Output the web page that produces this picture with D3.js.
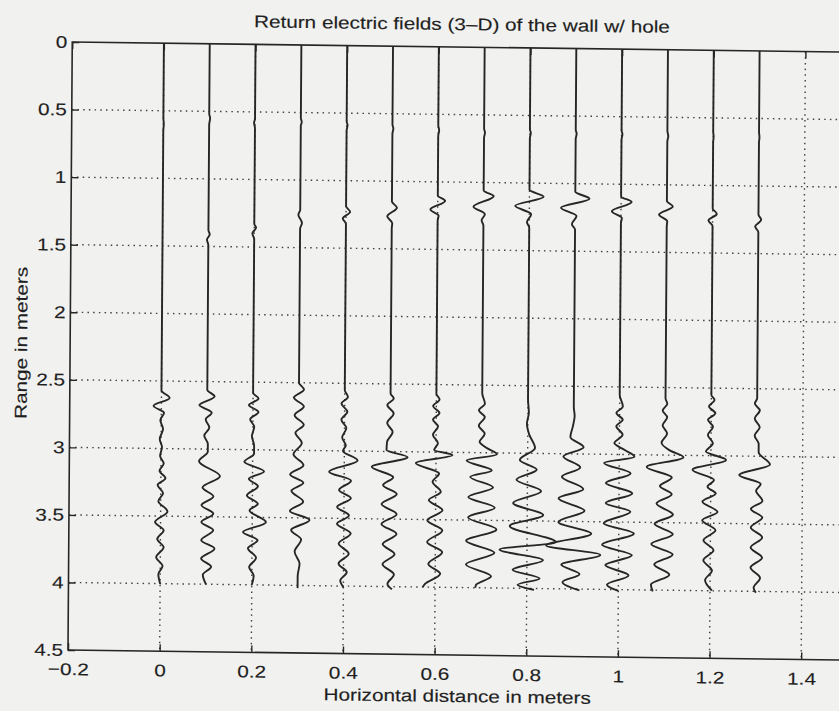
<!DOCTYPE html>
<html>
<head>
<meta charset="utf-8">
<script src="https://cdn.jsdelivr.net/npm/d3@7"></script>
<style>
  html, body { margin: 0; padding: 0; background: #f1f1ef; }
  svg { display: block; }
  text { font-family: "Liberation Sans", Arial, Helvetica, sans-serif; fill: #1f1f1f; stroke: #1f1f1f; stroke-width: 0.15px; }
</style>
</head>
<body>
<svg id="chart" width="839" height="711"></svg>
<script>
// Axis ticks and grid
const xTicks = [-0.2, 0, 0.2, 0.4, 0.6, 0.8, 1.0, 1.2, 1.4];
const yTicks = [0, 0.5, 1, 1.5, 2, 2.5, 3, 3.5, 4, 4.5];
const xGrid = [0, 0.2, 0.4, 0.6, 0.8, 1.0, 1.2, 1.4];
const yGrid = [0.5, 1, 1.5, 2, 2.5, 3, 3.5, 4];

// Antenna positions along the wall (m)
const tracePositions = [0, 0.1, 0.2, 0.3, 0.4, 0.5, 0.6, 0.7, 0.8, 0.9, 1.0, 1.1, 1.2, 1.3];

// Each trace: [range (m), field deflection (m)]
const trace00 = [[0,0],[0.55,0],[0.6,0.001],[0.65,0],[2.57,0],[2.625,0.018],[2.685,-0.017],[2.735,0.006],[2.79,-0.002],[2.855,0.004],[2.93,-0.003],[2.99,0.002],[3.055,-0.002],[3.11,0.006],[3.165,-0.003],[3.22,0.010],[3.27,-0.007],[3.33,0.005],[3.39,-0.005],[3.465,0.015],[3.545,-0.012],[3.605,0.007],[3.67,-0.007],[3.73,0.007],[3.805,-0.009],[3.87,0.005],[3.93,-0.004],[4.0,0]];
const trace01 = [[0,0],[0.52,0],[0.55,0.002],[0.6,0],[1.38,0],[1.41,0.003],[1.45,-0.003],[1.49,0],[2.56,0],[2.61,0.016],[2.675,-0.017],[2.73,0.010],[2.78,-0.003],[2.84,0.005],[2.9,-0.006],[2.96,0.002],[3.02,0.002],[3.09,-0.017],[3.2,0.029],[3.285,-0.009],[3.35,0.015],[3.415,-0.011],[3.477,0.015],[3.54,-0.011],[3.60,0.015],[3.675,-0.011],[3.736,0.018],[3.81,-0.011],[3.87,0.011],[3.93,-0.007],[4.0,0]];
const trace02 = [[0,0],[0.55,0],[0.58,-0.002],[0.62,0],[1.33,0],[1.355,0.004],[1.40,-0.004],[1.44,0],[2.58,0],[2.62,0.012],[2.67,-0.009],[2.72,0.012],[2.775,-0.006],[2.83,0.003],[2.9,-0.002],[2.97,0.003],[3.03,0.003],[3.09,-0.018],[3.16,0.025],[3.215,-0.008],[3.27,0.012],[3.34,-0.012],[3.40,0.012],[3.45,-0.006],[3.535,0.030],[3.61,-0.020],[3.67,0.012],[3.73,-0.009],[3.80,0.009],[3.87,-0.006],[3.93,0.004],[4.0,0]];
const trace03 = [[0,0],[0.54,0],[0.57,0.002],[0.6,0],[1.22,0],[1.256,-0.004],[1.317,0.004],[1.36,0],[2.5,0],[2.55,0.011],[2.61,-0.011],[2.675,0.011],[2.74,-0.009],[2.81,0.011],[2.87,-0.007],[2.945,0.007],[3.03,-0.011],[3.11,0.011],[3.18,-0.018],[3.24,0.011],[3.30,-0.015],[3.38,0.011],[3.45,-0.018],[3.515,0.025],[3.59,-0.015],[3.66,0.007],[3.75,-0.007],[3.84,0.004],[3.93,0],[4.02,0]];
const trace04 = [[0,0],[0.56,0],[0.59,0.002],[0.63,0],[1.19,0],[1.23,0.009],[1.28,-0.007],[1.32,0],[2.55,0],[2.6,0.007],[2.65,-0.007],[2.71,0.006],[2.77,-0.007],[2.83,0.004],[2.9,-0.005],[2.96,0.003],[3.0,-0.003],[3.07,0.029],[3.155,-0.033],[3.22,0.015],[3.29,-0.011],[3.35,0.015],[3.415,-0.015],[3.477,0.011],[3.54,-0.015],[3.61,0.015],[3.686,-0.011],[3.76,0.011],[3.835,-0.011],[3.897,0.007],[3.96,-0.007],[4.01,0]];
const trace05 = [[0,0],[0.58,0],[0.61,0.002],[0.65,0],[1.15,0],[1.195,0.011],[1.26,-0.010],[1.31,0.001],[1.35,0],[2.57,0],[2.607,0.007],[2.656,-0.007],[2.718,0.007],[2.79,-0.007],[2.855,0.005],[2.93,-0.007],[2.99,-0.008],[3.04,0.038],[3.115,-0.040],[3.19,0.007],[3.25,-0.015],[3.314,0.015],[3.39,-0.018],[3.463,0.015],[3.537,-0.018],[3.61,0.015],[3.686,-0.015],[3.76,0.011],[3.835,-0.015],[3.91,0.010],[3.98,-0.004],[4.02,0.006]];
const trace06 = [[0,0],[0.58,0],[0.62,0.002],[0.66,0],[1.10,0],[1.14,0.016],[1.205,-0.016],[1.25,0.002],[1.29,0],[2.57,0],[2.61,0.007],[2.66,-0.007],[2.71,0.007],[2.76,-0.007],[2.81,0.004],[2.872,-0.007],[2.934,0.004],[2.984,-0.004],[3.02,0.036],[3.083,-0.044],[3.158,0.007],[3.22,-0.007],[3.294,0.011],[3.356,-0.015],[3.43,0.015],[3.505,-0.018],[3.58,0.015],[3.666,-0.018],[3.74,0.015],[3.828,-0.015],[3.90,0.011],[3.976,-0.022],[4.0,-0.027]];
const trace07 = [[0,0],[0.6,0],[0.63,0.002],[0.67,0],[1.06,0],[1.10,0.022],[1.18,-0.022],[1.235,0.003],[1.28,-0.004],[1.32,0],[2.56,0],[2.637,0.006],[2.686,-0.007],[2.736,0.006],[2.80,-0.007],[2.86,0.006],[2.92,-0.005],[2.96,0.008],[3.01,0.033],[3.06,-0.033],[3.13,0.022],[3.18,-0.025],[3.257,0.025],[3.33,-0.029],[3.406,0.029],[3.48,-0.029],[3.567,0.033],[3.654,-0.033],[3.74,0.029],[3.828,-0.033],[3.914,0.022],[3.98,-0.011],[4.0,-0.012]];
const trace08 = [[0,0],[0.6,0],[0.63,0.002],[0.67,0],[1.05,0],[1.10,0.031],[1.17,-0.031],[1.23,0.004],[1.29,-0.005],[1.33,0],[2.6,0],[2.7,0.002],[2.78,-0.002],[2.86,0.003],[2.96,0.016],[3.05,-0.017],[3.12,0.020],[3.196,-0.024],[3.28,0.030],[3.37,-0.031],[3.456,0.035],[3.54,-0.038],[3.655,0.063],[3.715,-0.060],[3.79,0.035],[3.863,-0.031],[3.925,0.028],[3.974,-0.020],[4.01,0.016]];
const trace09 = [[0,0],[0.6,0],[0.63,0.002],[0.67,0],[1.06,0],[1.11,0.031],[1.18,-0.031],[1.24,0.003],[1.30,-0.007],[1.34,0],[2.65,0],[2.72,0.002],[2.8,-0.002],[2.875,-0.007],[2.95,0.022],[3.02,-0.022],[3.10,0.015],[3.17,-0.025],[3.26,0.022],[3.33,-0.032],[3.42,0.025],[3.505,-0.032],[3.59,0.040],[3.68,-0.058],[3.745,0.060],[3.82,-0.025],[3.89,0.015],[3.95,-0.022],[4.01,0.015]];
const trace10 = [[0,0],[0.6,0],[0.63,0.002],[0.67,0],[1.09,0],[1.13,0.023],[1.20,-0.020],[1.25,0.002],[1.29,0],[2.56,0],[2.644,0.007],[2.693,-0.007],[2.743,0.007],[2.792,-0.007],[2.854,0.007],[2.916,-0.011],[2.965,0.011],[3.015,0.033],[3.064,-0.033],[3.139,0.025],[3.213,-0.029],[3.287,0.029],[3.361,-0.029],[3.423,0.025],[3.51,-0.033],[3.584,0.033],[3.67,-0.036],[3.745,0.029],[3.82,-0.029],[3.894,0.022],[3.965,-0.025],[4.01,0]];
const trace11 = [[0,0],[0.6,0],[0.64,0.002],[0.68,0],[1.12,0],[1.16,0.013],[1.22,-0.017],[1.27,0.001],[1.31,0],[2.58,0],[2.62,0.004],[2.67,-0.006],[2.72,0.004],[2.78,-0.006],[2.84,0.004],[2.91,-0.008],[2.965,0.010],[3.015,0.040],[3.09,-0.040],[3.165,0.015],[3.23,-0.011],[3.29,0.015],[3.36,-0.018],[3.44,0.018],[3.51,-0.022],[3.585,0.018],[3.66,-0.029],[3.735,0.018],[3.81,-0.022],[3.885,0.011],[3.96,-0.029],[4.01,-0.025]];
const trace12 = [[0,0],[0.6,0],[0.64,0.001],[0.68,0],[1.17,0],[1.21,0.009],[1.26,-0.009],[1.30,0],[2.55,0],[2.587,0.007],[2.636,-0.005],[2.686,0.009],[2.735,-0.007],[2.785,0.004],[2.847,-0.007],[2.908,0.004],[2.97,-0.011],[3.03,0.033],[3.106,-0.040],[3.18,0.007],[3.23,-0.007],[3.28,0.011],[3.34,-0.018],[3.416,0.015],[3.478,-0.018],[3.552,0.011],[3.626,-0.015],[3.70,0.007],[3.775,-0.015],[3.85,0.004],[3.923,-0.011],[3.998,0.004]];
const trace13 = [[0,0],[0.6,0],[0.64,0.001],[0.68,0],[1.21,0],[1.25,0.006],[1.30,-0.007],[1.34,0],[2.57,0],[2.61,-0.005],[2.66,0.006],[2.72,-0.005],[2.785,0.006],[2.847,-0.005],[2.908,0.004],[2.97,0.004],[3.06,0.029],[3.14,-0.038],[3.205,0.009],[3.255,-0.001],[3.33,0.013],[3.39,-0.012],[3.453,0.013],[3.527,-0.012],[3.60,0.013],[3.676,-0.012],[3.75,0.013],[3.824,-0.012],[3.90,0.009],[3.973,-0.005],[4.01,0]];

const traces = [trace00, trace01, trace02, trace03, trace04, trace05, trace06,
                trace07, trace08, trace09, trace10, trace11, trace12, trace13];

const titleText = "Return electric fields (3–D) of the wall w/ hole";
const xLabel = "Horizontal distance in meters";
const yLabel = "Range in meters";

const fontSize = 17;
const stretch = 1.22;   // wide Helvetica-style glyphs

const svg = d3.select("#chart");

// Whole sheet sits slightly askew on the page
const page = svg.append("g")
  .attr("transform", "matrix(1,0.013,-0.007,1,4.55,-0.884)");

const x = d3.scaleLinear().domain([-0.2, 1.5]).range([68, 847]);
const y = d3.scaleLinear().domain([0, 4.5]).range([42, 650]);

// Dotted grid
const grid = page.append("g")
  .attr("stroke", "#404040")
  .attr("stroke-width", 1.4)
  .attr("stroke-dasharray", "1.5 4.2");
grid.selectAll("line.gx").data(xGrid).join("line")
  .attr("class", "gx")
  .attr("x1", d => x(d)).attr("x2", d => x(d))
  .attr("y1", y(0)).attr("y2", y(4.5));
grid.selectAll("line.gy").data(yGrid).join("line")
  .attr("class", "gy")
  .attr("x1", x(-0.2)).attr("x2", x(1.5))
  .attr("y1", d => y(d)).attr("y2", d => y(d));

// Traces
const line = d3.line()
  .x(d => d.px)
  .y(d => y(d.r))
  .curve(d3.curveMonotoneY);

page.append("g")
  .attr("fill", "none")
  .attr("stroke", "#262626")
  .attr("stroke-width", 1.9)
  .attr("stroke-linejoin", "round")
  .selectAll("path")
  .data(traces.map((t, i) => t.map(p => ({ r: p[0], px: x(tracePositions[i] + p[1]) }))))
  .join("path")
  .attr("d", line);

// Axes (ticks point inward, box on)
const fmt = d3.format("~g");
const tick = 7;

function styleAxis(g) {
  g.select(".domain").remove();
  g.selectAll(".tick line").attr("stroke", "#262626").attr("stroke-width", 1.4);
  g.selectAll("text")
    .attr("font-size", fontSize)
    .attr("font-family", "Liberation Sans, Arial, sans-serif")
    .attr("fill", "#1f1f1f");
}

const gBottom = page.append("g")
  .attr("transform", `translate(0,${y(4.5)})`)
  .call(d3.axisBottom(x).tickValues(xTicks).tickFormat(fmt).tickSize(-tick).tickPadding(13))
  .call(styleAxis);
gBottom.selectAll("text").attr("transform", `scale(${stretch},1)`);

const gTop = page.append("g")
  .attr("transform", `translate(0,${y(0)})`)
  .call(d3.axisTop(x).tickValues(xTicks).tickFormat("").tickSize(-tick))
  .call(styleAxis);

const gLeft = page.append("g")
  .attr("transform", `translate(${x(-0.2)},0)`)
  .call(d3.axisLeft(y).tickValues(yTicks).tickFormat(fmt).tickSize(-tick).tickPadding(4))
  .call(styleAxis);
gLeft.selectAll("text").attr("transform", `scale(${stretch},1)`);

const gRight = page.append("g")
  .attr("transform", `translate(${x(1.5)},0)`)
  .call(d3.axisRight(y).tickValues(yTicks).tickFormat("").tickSize(-tick))
  .call(styleAxis);

// Box
page.append("rect")
  .attr("x", x(-0.2)).attr("y", y(0))
  .attr("width", x(1.5) - x(-0.2)).attr("height", y(4.5) - y(0))
  .attr("fill", "none")
  .attr("stroke", "#262626")
  .attr("stroke-width", 1.6);

// Title and axis labels
function label(txt, tx, ty, rot) {
  page.append("g")
    .attr("transform", `translate(${tx},${ty}) rotate(${rot})`)
    .append("text")
    .attr("text-anchor", "middle")
    .attr("font-size", fontSize)
    .attr("transform", `scale(${stretch},1)`)
    .text(txt);
}
label(titleText, (x(-0.2) + x(1.5)) / 2, 25, 0);
label(xLabel, (x(-0.2) + x(1.5)) / 2, 697, 0);
label(yLabel, 25, 343.5, -90);
</script>
</body>
</html>
